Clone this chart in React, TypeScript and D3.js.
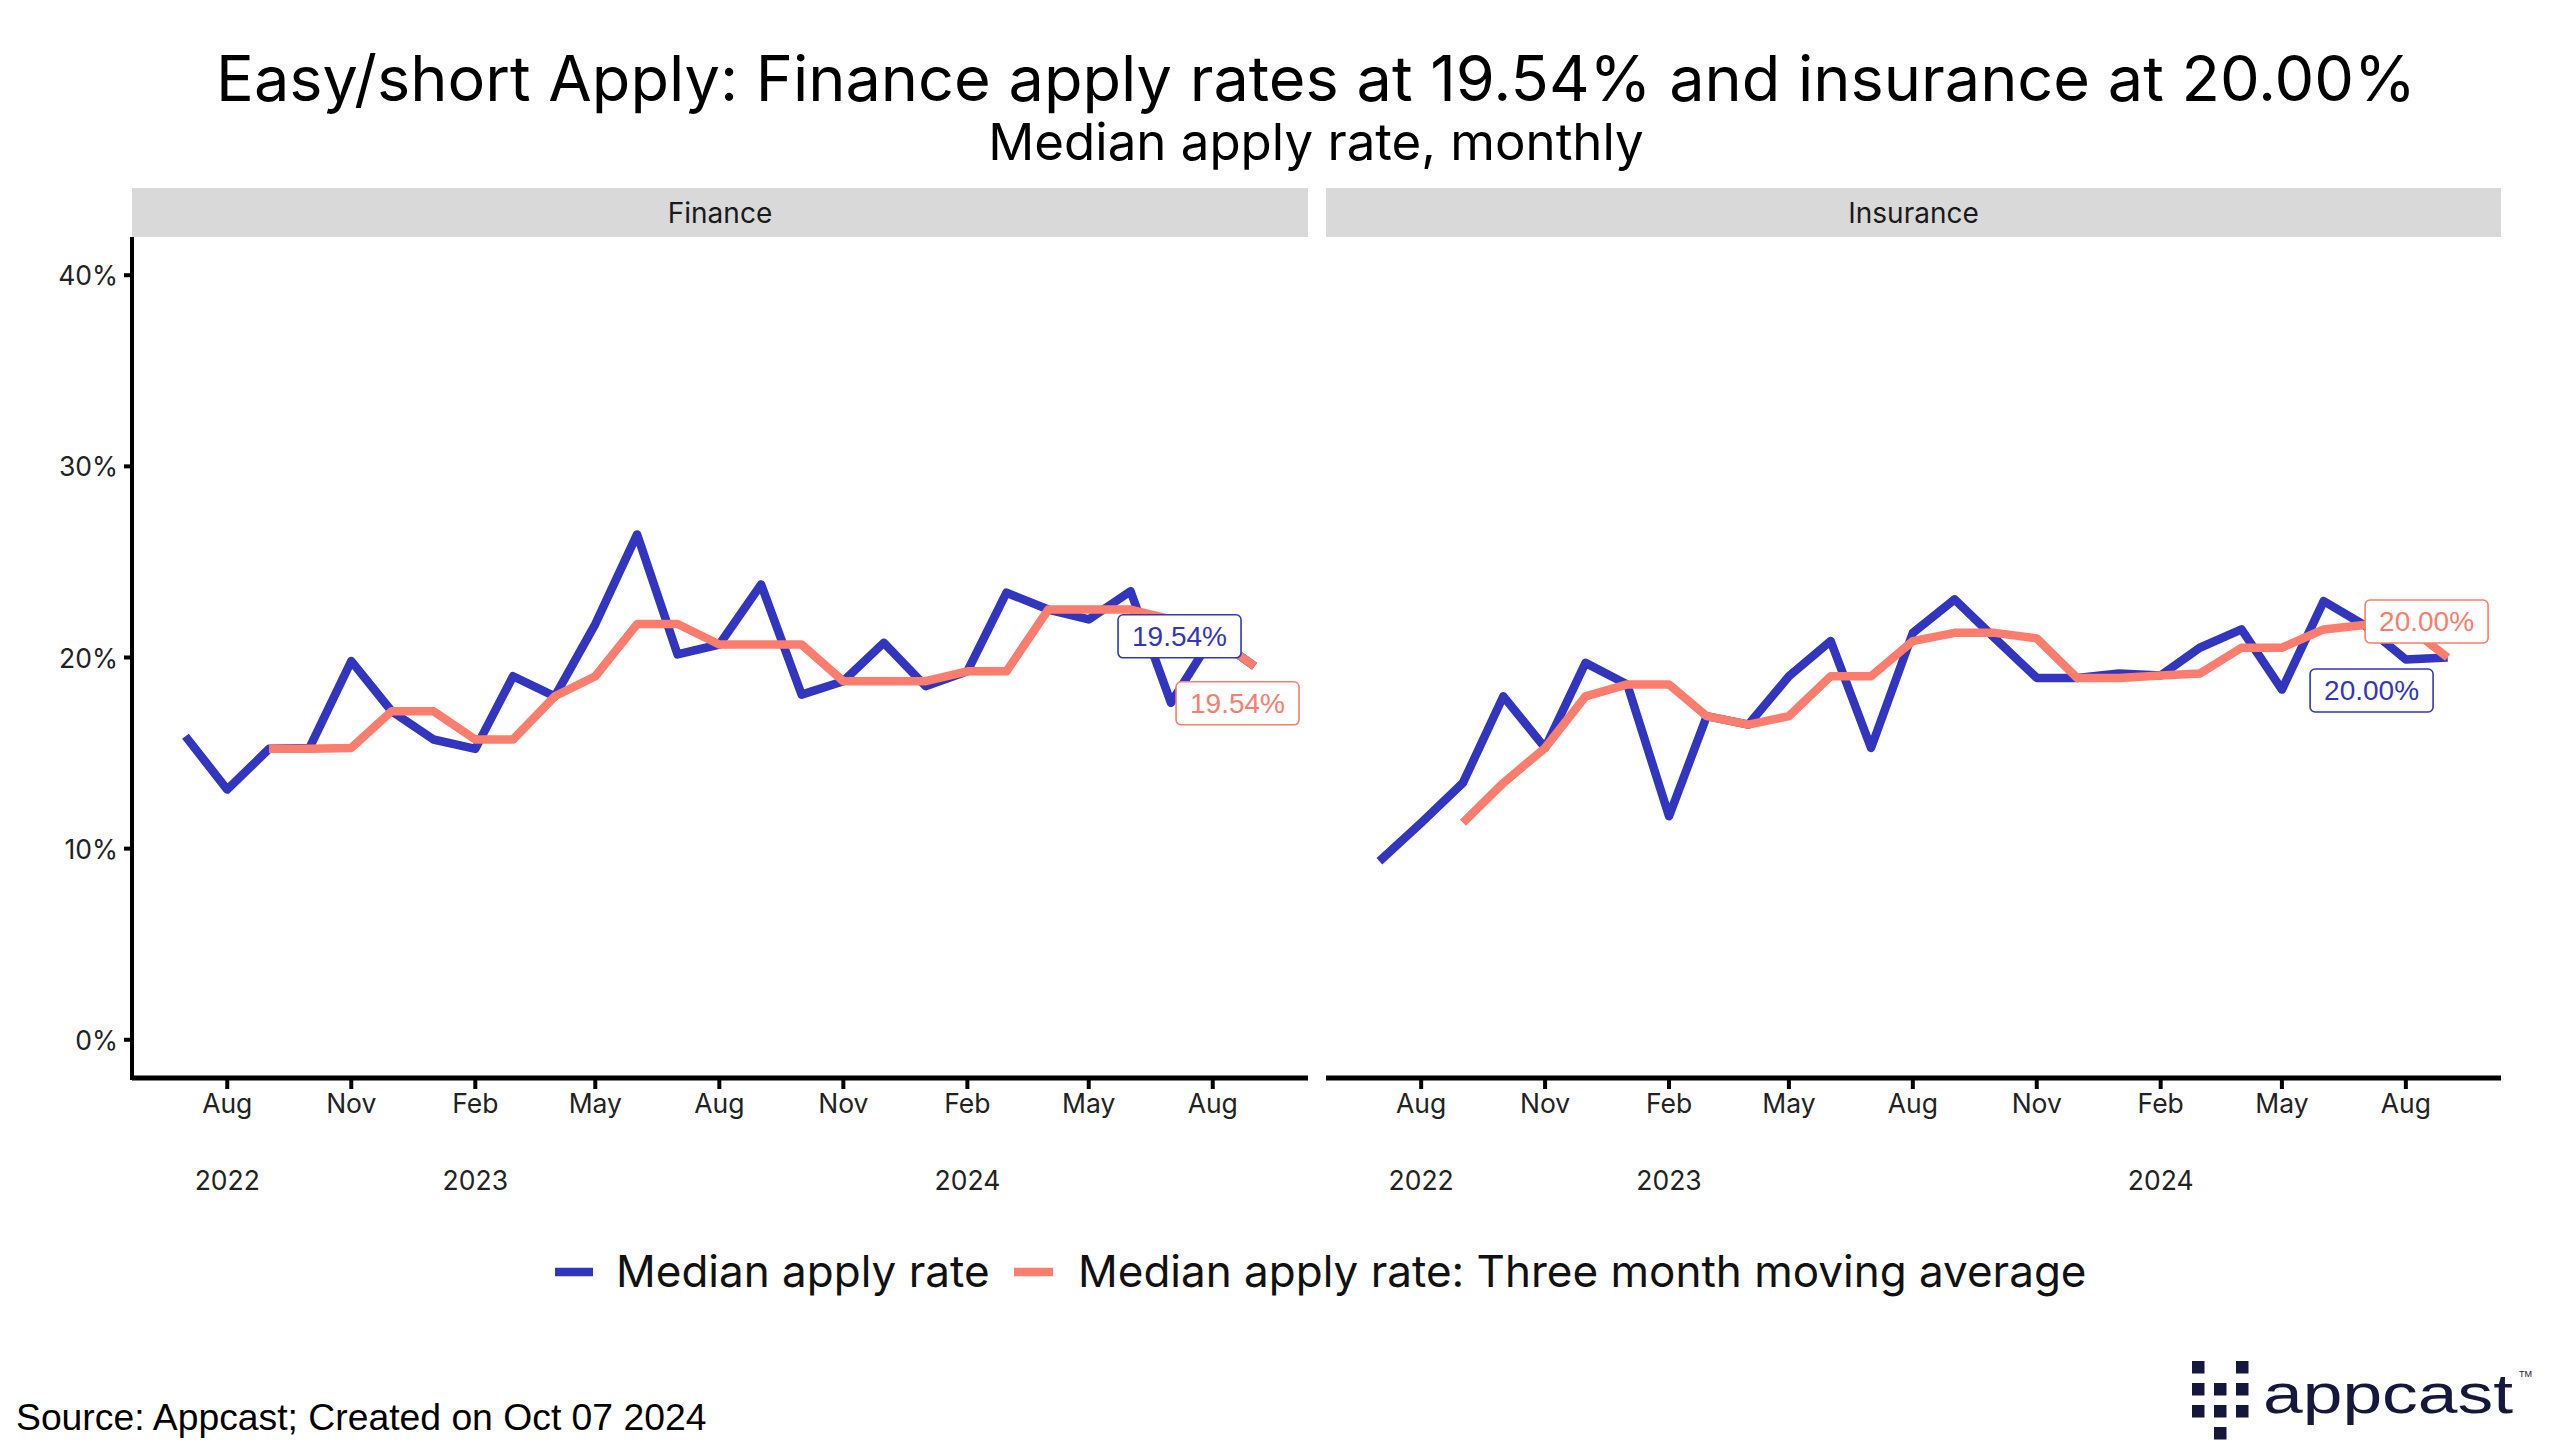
import React, { useEffect } from "react";
import * as d3 from "d3";

// ---------- data ----------
const monthDates = [
  "2022-07-01", "2022-08-01", "2022-09-01", "2022-10-01", "2022-11-01", "2022-12-01",
  "2023-01-01", "2023-02-01", "2023-03-01", "2023-04-01", "2023-05-01", "2023-06-01",
  "2023-07-01", "2023-08-01", "2023-09-01", "2023-10-01", "2023-11-01", "2023-12-01",
  "2024-01-01", "2024-02-01", "2024-03-01", "2024-04-01", "2024-05-01", "2024-06-01",
  "2024-07-01", "2024-08-01", "2024-09-01",
];

const financeRate = [
  15.88, 13.09, 15.22, 15.27, 19.81, 17.19, 15.71, 15.22, 19.02, 17.97, 21.75, 26.44,
  20.16, 20.68, 23.82, 18.06, 18.76, 20.77, 18.5, 19.28, 23.39, 22.51, 21.99, 23.47,
  17.63, 21.1, 19.54,
];
const financeAvg = [
  null, null, 15.22, 15.22, 15.27, 17.19, 17.19, 15.71, 15.71, 17.97, 19.02, 21.75,
  21.75, 20.68, 20.68, 20.68, 18.76, 18.76, 18.76, 19.28, 19.28, 22.51, 22.51, 22.51,
  21.99, 21.1, 19.54,
];
const insuranceRate = [
  9.34, 11.35, 13.44, 17.97, 15.27, 19.72, 18.59, 11.69, 16.93, 16.49, 19.02, 20.86,
  15.27, 21.29, 23.04, 21.0, 18.93, 18.93, 19.16, 19.06, 20.51, 21.47, 18.32, 22.95,
  21.7, 19.9, 20.0,
];
const insuranceAvg = [
  null, null, 11.35, 13.44, 15.27, 17.97, 18.59, 18.59, 16.93, 16.49, 16.93, 19.02,
  19.02, 20.86, 21.29, 21.29, 21.0, 18.93, 18.93, 19.06, 19.16, 20.51, 20.51, 21.47,
  21.7, 21.7, 20.0,
];

const facetNames = ["Finance", "Insurance"];
const seriesNames = ["Median apply rate", "Median apply rate: Three month moving average"];

const xTickDates = [
  "2022-08-01", "2022-11-01", "2023-02-01", "2023-05-01", "2023-08-01",
  "2023-11-01", "2024-02-01", "2024-05-01", "2024-08-01",
];
const xTickMonths = ["Aug", "Nov", "Feb", "May", "Aug", "Nov", "Feb", "May", "Aug"];
const xTickYears = ["2022", "", "2023", "", "", "", "2024", "", ""];

const yTicks = [0, 10, 20, 30, 40];
const yLimits = [0, 40];

const titleText = "Easy/short Apply: Finance apply rates at 19.54% and insurance at 20.00%";
const subtitleText = "Median apply rate, monthly";
const sourceText = "Source: Appcast; Created on Oct 07 2024";

// ---------- styling ----------
const W = 2560;
const H = 1455;
const BLUE = "#3236BE";
const RED = "#FA7D6E";
const NAVY = "#16173D";
const MAIN_FONT = "Inter, 'Liberation Sans', sans-serif";
const ARIAL = "'Liberation Sans', Arial, sans-serif";

const panelTop = 237;
const panelBottom = 1078;
const stripTop = 188;
const panelGeom = [
  { left: 132, right: 1308 },
  { left: 1326, right: 2501 },
];
// label offsets relative to last point: [blue, red]
const labelOffsets = [
  [ [-75, -30], [-17, 37] ],
  [ [-76, 33], [-21, -36] ],
];

const dates = monthDates.map((s) => new Date(s + "T00:00:00Z"));

export default function App() {
  useEffect(() => {
    document.body.style.margin = "0";
    document.body.style.overflow = "hidden";
  }, []);

  const ySpan = yLimits[1] - yLimits[0];
  const y = d3
    .scaleLinear()
    .domain([yLimits[0] - 0.05 * ySpan, yLimits[1] + 0.05 * ySpan])
    .range([panelBottom, panelTop]);

  const panelData = [
    { rate: financeRate, avg: financeAvg },
    { rate: insuranceRate, avg: insuranceAvg },
  ];

  const t0 = dates[0].getTime();
  const t1 = dates[dates.length - 1].getTime();
  const tSpan = t1 - t0;

  const panels = panelGeom.map((g, i) => {
    const x = d3
      .scaleUtc()
      .domain([new Date(t0 - 0.05 * tSpan), new Date(t1 + 0.05 * tSpan)])
      .range([g.left, g.right]);
    return { ...g, x, ...panelData[i], name: facetNames[i], idx: i };
  });

  const mkLine = (x) =>
    d3
      .line()
      .defined((d) => d[1] != null)
      .x((d) => x(d[0]))
      .y((d) => y(d[1]));

  const boxW = 123;
  const boxH = 43;
  const axisFs = 26.5;

  return (
    <svg width={W} height={H} style={{ display: "block", background: "#fff" }}>
      <rect x={0} y={0} width={W} height={H} fill="#fff" />
      <text x={1316} y={101} textAnchor="middle" fontFamily={MAIN_FONT} fontSize={63} fill="#000">
        {titleText}
      </text>
      <text x={1316} y={160} textAnchor="middle" fontFamily={MAIN_FONT} fontSize={51} fill="#000">
        {subtitleText}
      </text>

      {panels.map((p) => {
        const line = mkLine(p.x);
        const rateData = dates.map((d, i) => [d, p.rate[i]]);
        const avgData = dates.map((d, i) => [d, p.avg[i]]);
        const last = dates.length - 1;
        const lx = p.x(dates[last]);
        const lyRate = y(p.rate[last]);
        const lyAvg = y(p.avg[last]);
        const labels = [
          { v: p.rate[last], col: BLUE, cx: lx + labelOffsets[p.idx][0][0], cy: lyRate + labelOffsets[p.idx][0][1] },
          { v: p.avg[last], col: RED, cx: lx + labelOffsets[p.idx][1][0], cy: lyAvg + labelOffsets[p.idx][1][1] },
        ];
        return (
          <g key={p.name}>
            {/* strip */}
            <rect x={p.left} y={stripTop} width={p.right - p.left} height={panelTop - stripTop} fill="#D9D9D9" />
            <text
              x={(p.left + p.right) / 2}
              y={(stripTop + panelTop) / 2}
              textAnchor="middle"
              dominantBaseline="central"
              fontFamily={MAIN_FONT}
              fontSize={28}
              fill="#1a1a1a"
            >
              {p.name}
            </text>

            {/* y axis only on first panel */}
            {p.idx === 0 && (
              <g>
                <line x1={p.left} x2={p.left} y1={panelTop} y2={panelBottom + 2} stroke="#000" strokeWidth={4} />
                {yTicks.map((t) => (
                  <g key={t}>
                    <line x1={p.left - 8} x2={p.left} y1={y(t)} y2={y(t)} stroke="#000" strokeWidth={4} />
                    <text
                      x={p.left - 14}
                      y={y(t)}
                      textAnchor="end"
                      dominantBaseline="central"
                      fontFamily={MAIN_FONT}
                      fontSize={axisFs}
                      fill="#222"
                    >
                      {t + "%"}
                    </text>
                  </g>
                ))}
              </g>
            )}

            {/* x axis */}
            <line x1={p.left} x2={p.right} y1={panelBottom} y2={panelBottom} stroke="#000" strokeWidth={5} />
            {xTickDates.map((s, i) => {
              const xx = p.x(new Date(s + "T00:00:00Z"));
              return (
                <g key={s}>
                  <line x1={xx} x2={xx} y1={panelBottom} y2={panelBottom + 11} stroke="#000" strokeWidth={4} />
                  <text x={xx} y={1113} textAnchor="middle" fontFamily={MAIN_FONT} fontSize={axisFs} fill="#222">
                    {xTickMonths[i]}
                  </text>
                  {xTickYears[i] && (
                    <text x={xx} y={1190} textAnchor="middle" fontFamily={MAIN_FONT} fontSize={axisFs} fill="#222">
                      {xTickYears[i]}
                    </text>
                  )}
                </g>
              );
            })}

            {/* lines */}
            <path d={line(rateData)} fill="none" stroke={BLUE} strokeWidth={8.5} strokeLinejoin="round" />
            <path d={line(avgData)} fill="none" stroke={RED} strokeWidth={8.5} strokeLinejoin="round" />

            {/* end labels */}
            {labels.map((l, i) => (
              <g key={i}>
                <rect
                  x={l.cx - boxW / 2}
                  y={l.cy - boxH / 2}
                  width={boxW}
                  height={boxH}
                  rx={5}
                  fill="#fff"
                  stroke={l.col}
                  strokeWidth={1.6}
                />
                <text
                  x={l.cx}
                  y={l.cy}
                  textAnchor="middle"
                  dominantBaseline="central"
                  fontFamily={ARIAL}
                  fontSize={28}
                  fill={l.col}
                >
                  {l.v.toFixed(2) + "%"}
                </text>
              </g>
            ))}
          </g>
        );
      })}

      {/* legend */}
      <g>
        <line x1={555} x2={593} y1={1272} y2={1272} stroke={BLUE} strokeWidth={8.5} />
        <text x={616} y={1287} fontFamily={MAIN_FONT} fontSize={44} fill="#111">
          {seriesNames[0]}
        </text>
        <line x1={1014} x2={1053} y1={1272} y2={1272} stroke={RED} strokeWidth={8.5} />
        <text x={1078} y={1287} fontFamily={MAIN_FONT} fontSize={44} fill="#111">
          {seriesNames[1]}
        </text>
      </g>

      {/* source */}
      <text x={16} y={1430} fontFamily={ARIAL} fontSize={37.3} fill="#000">
        {sourceText}
      </text>

      {/* logo */}
      <g fill={NAVY}>
        {[
          [0, 0], [2, 0],
          [0, 1], [1, 1], [2, 1],
          [0, 2], [1, 2], [2, 2],
          [1, 3],
        ].map(([c, r], i) => (
          <rect key={i} x={2192 + c * 22} y={1361 + r * 22} width={12.5} height={12.5} />
        ))}
        <text
          x={2263}
          y={1413}
          fontFamily={ARIAL}
          fontSize={56}
          textLength={250}
          lengthAdjust="spacingAndGlyphs"
        >
          appcast
        </text>
        <text x={2519} y={1377} fontFamily={ARIAL} fontSize={9}>
          TM
        </text>
      </g>
    </svg>
  );
}
